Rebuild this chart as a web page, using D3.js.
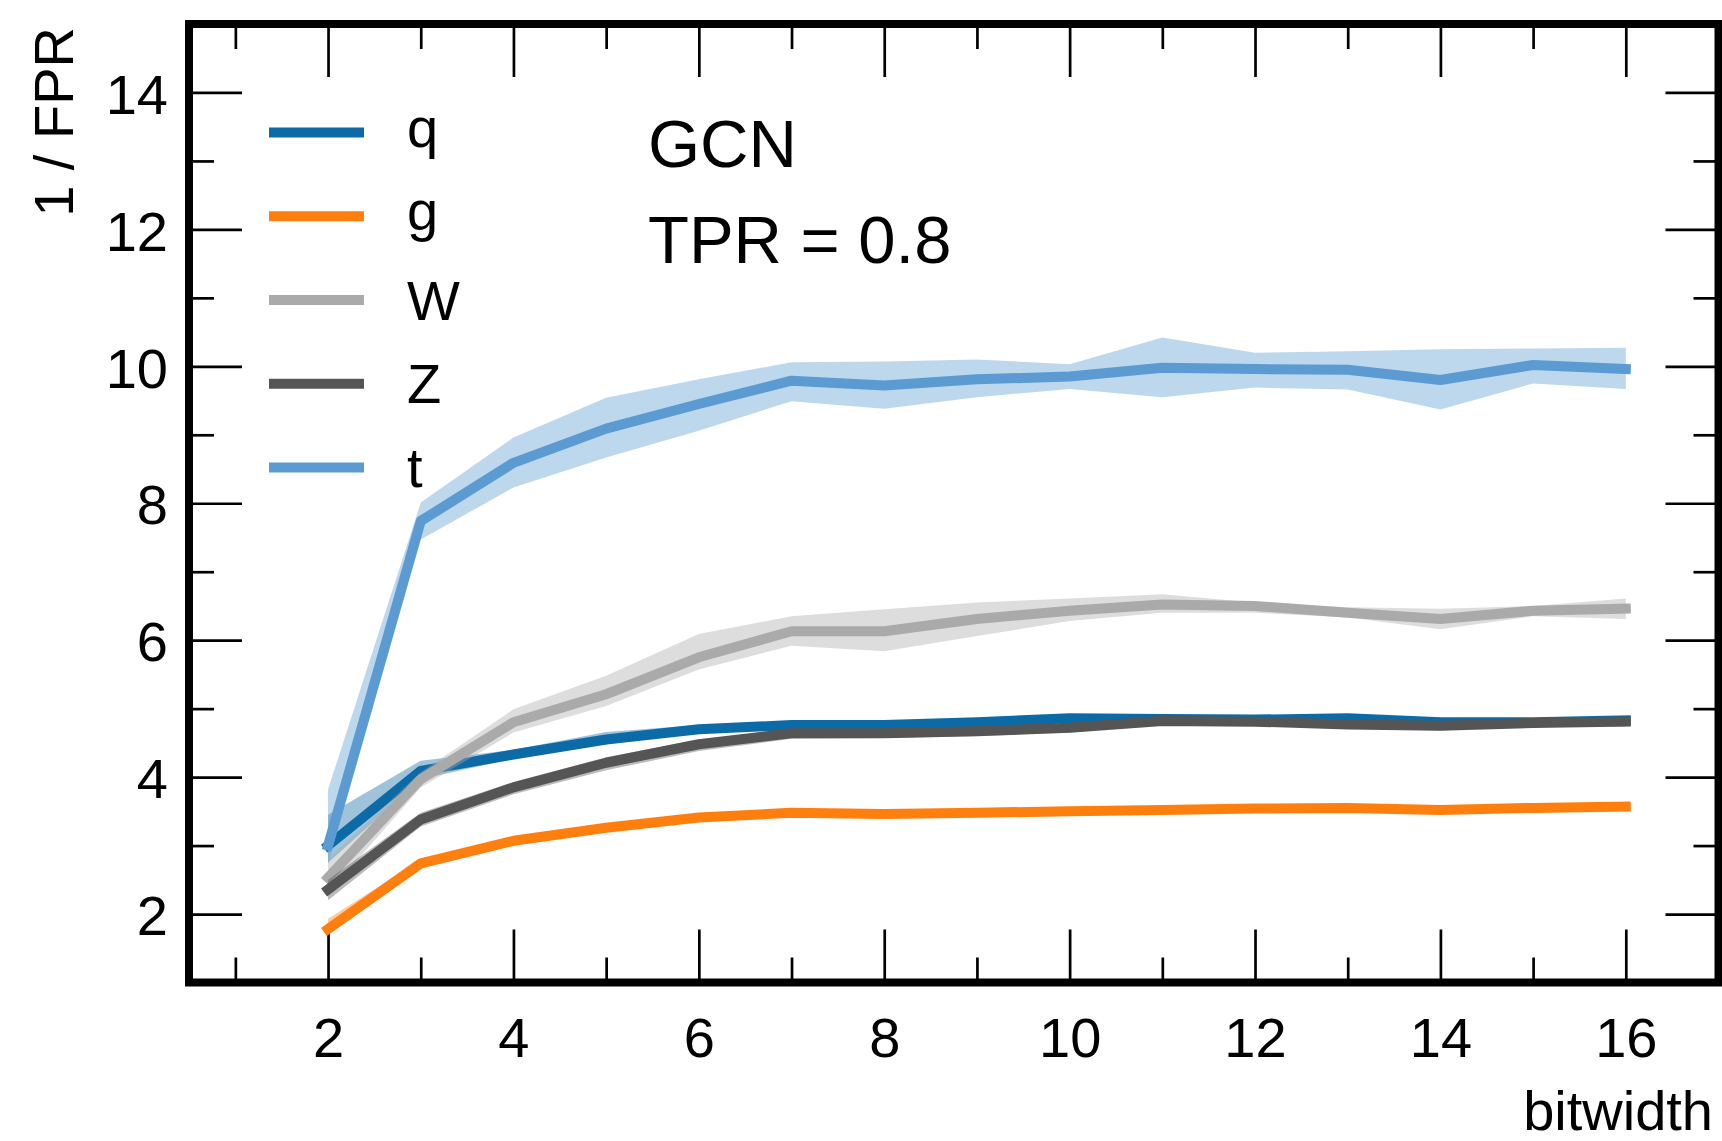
<!DOCTYPE html>
<html lang="en">
<head>
<meta charset="UTF-8">
<title>GCN 1/FPR vs bitwidth</title>
<script src="https://d3js.org/d3.v7.min.js"></script>
<style>
    body { margin: 0; background: #fff; }
    svg text { font-family: "Liberation Sans", Arial, Helvetica, sans-serif; fill: #000; }
    .tick line { stroke: #000; stroke-width: 2.7; }
    .domain { display: none; }
</style>
</head>
<body>
<div id="chart"></div>
<script>
// bitwidth values on the x axis
const bitwidths = [2, 3, 4, 5, 6, 7, 8, 9, 10, 11, 12, 13, 14, 15, 16];

// mean 1/FPR per class, with lower / upper band
const qMean = [3.0, 4.09, 4.33, 4.55, 4.70, 4.76, 4.76, 4.80, 4.86, 4.85, 4.84, 4.86, 4.80, 4.80, 4.83];
const qLow  = [2.75, 3.97, 4.27, 4.48, 4.65, 4.72, 4.72, 4.75, 4.80, 4.80, 4.79, 4.81, 4.75, 4.75, 4.77];
const qHigh = [3.45, 4.24, 4.40, 4.66, 4.76, 4.81, 4.82, 4.86, 4.90, 4.90, 4.89, 4.91, 4.85, 4.85, 4.89];

const gMean = [1.78, 2.74, 3.07, 3.26, 3.41, 3.48, 3.46, 3.48, 3.50, 3.52, 3.54, 3.55, 3.52, 3.55, 3.57];
const gLow  = [1.72, 2.70, 3.03, 3.22, 3.37, 3.44, 3.42, 3.44, 3.46, 3.48, 3.50, 3.51, 3.48, 3.51, 3.53];
const gHigh = [1.93, 2.79, 3.11, 3.30, 3.45, 3.52, 3.50, 3.52, 3.54, 3.56, 3.58, 3.59, 3.56, 3.59, 3.61];

const wMean = [2.53, 3.97, 4.80, 5.21, 5.75, 6.13, 6.13, 6.31, 6.43, 6.52, 6.50, 6.40, 6.31, 6.43, 6.46];
const wLow  = [2.30, 3.85, 4.65, 5.04, 5.57, 5.92, 5.84, 6.06, 6.28, 6.40, 6.40, 6.33, 6.16, 6.35, 6.31];
const wHigh = [2.80, 4.07, 4.99, 5.48, 6.09, 6.35, 6.45, 6.55, 6.61, 6.67, 6.55, 6.48, 6.46, 6.50, 6.61];

const zMean = [2.36, 3.38, 3.85, 4.21, 4.48, 4.64, 4.64, 4.67, 4.72, 4.82, 4.81, 4.77, 4.75, 4.79, 4.81];
const zLow  = [2.20, 3.28, 3.75, 4.10, 4.38, 4.56, 4.57, 4.60, 4.65, 4.77, 4.76, 4.71, 4.68, 4.74, 4.74];
const zHigh = [2.50, 3.48, 3.93, 4.29, 4.55, 4.70, 4.70, 4.73, 4.78, 4.87, 4.86, 4.82, 4.80, 4.84, 4.88];

const tMean = [3.0, 7.74, 8.59, 9.09, 9.45, 9.79, 9.72, 9.81, 9.85, 9.98, 9.96, 9.95, 9.80, 10.02, 9.96];
const tLow  = [2.73, 7.47, 8.23, 8.67, 9.06, 9.49, 9.38, 9.55, 9.67, 9.55, 9.69, 9.66, 9.37, 9.75, 9.67];
const tHigh = [3.82, 8.01, 8.96, 9.54, 9.81, 10.06, 10.07, 10.10, 10.03, 10.42, 10.20, 10.22, 10.25, 10.26, 10.27];

const seriesNames = ["q", "g", "W", "Z", "t"];
const seriesColors = ["#0c6aa6", "#ff7f0e", "#aaaaaa", "#555555", "#5b9bd1"];

const xMajorTicks = [2, 4, 6, 8, 10, 12, 14, 16];
const xMinorTicks = [1, 3, 5, 7, 9, 11, 13, 15];
const yMajorTicks = [2, 4, 6, 8, 10, 12, 14];
const yMinorTicks = [3, 5, 7, 9, 11, 13];

const series = [
    { mean: qMean, low: qLow, high: qHigh },
    { mean: gMean, low: gLow, high: gHigh },
    { mean: wMean, low: wLow, high: wHigh },
    { mean: zMean, low: zLow, high: zHigh },
    { mean: tMean, low: tLow, high: tHigh }
].map((s, i) => ({
    name: seriesNames[i],
    color: seriesColors[i],
    points: bitwidths.map((b, j) => ({ x: b, y: s.mean[j], lo: s.low[j], hi: s.high[j] }))
}));

const W = 1722, H = 1141;
const plotLeft = 189, plotRight = 1718.5, plotTop = 24, plotBottom = 982.5;

const svg = d3.select("#chart").append("svg")
    .attr("width", W).attr("height", H);

svg.append("rect").attr("width", W).attr("height", H).attr("fill", "#fff");

const x = d3.scaleLinear().domain([0.5, 17]).range([plotLeft, plotRight]);
const y = d3.scaleLinear().domain([1, 15]).range([plotBottom, plotTop]);

const majorLen = 53, minorLen = 25;

// ticks on all four sides, pointing inward
function addAxis(axis, tx, ty) {
    const g = svg.append("g").attr("transform", `translate(${tx},${ty})`).call(axis);
    g.selectAll("text").style("font-size", "56px");
    return g;
}

addAxis(d3.axisBottom(x).tickValues(xMajorTicks).tickSize(-majorLen).tickPadding(35), 0, plotBottom);
addAxis(d3.axisBottom(x).tickValues(xMinorTicks).tickSize(-minorLen).tickFormat(""), 0, plotBottom);
addAxis(d3.axisTop(x).tickValues(xMajorTicks).tickSize(-majorLen).tickFormat(""), 0, plotTop);
addAxis(d3.axisTop(x).tickValues(xMinorTicks).tickSize(-minorLen).tickFormat(""), 0, plotTop);

const yl = addAxis(d3.axisLeft(y).tickValues(yMajorTicks).tickSize(-majorLen).tickPadding(21), plotLeft, 0);
yl.selectAll("text").attr("dy", "0.37em");
addAxis(d3.axisLeft(y).tickValues(yMinorTicks).tickSize(-minorLen).tickFormat(""), plotLeft, 0);
addAxis(d3.axisRight(y).tickValues(yMajorTicks).tickSize(-majorLen).tickFormat(""), plotRight, 0);
addAxis(d3.axisRight(y).tickValues(yMinorTicks).tickSize(-minorLen).tickFormat(""), plotRight, 0);

// bands and lines
const area = d3.area()
    .x(d => x(d.x))
    .y0(d => y(d.lo))
    .y1(d => y(d.hi));

const line = d3.line()
    .x(d => x(d.x))
    .y(d => y(d.y));

const plot = svg.append("g");
series.forEach(s => {
    plot.append("path")
        .datum(s.points)
        .attr("d", area)
        .attr("fill", s.color)
        .attr("fill-opacity", 0.4)
        .attr("stroke", "none");
    plot.append("path")
        .datum(s.points)
        .attr("d", line)
        .attr("fill", "none")
        .attr("stroke", s.color)
        .attr("stroke-width", 10)
        .attr("stroke-linejoin", "round")
        .attr("stroke-linecap", "square");
});

// frame
svg.append("rect")
    .attr("x", plotLeft).attr("y", plotTop)
    .attr("width", plotRight - plotLeft).attr("height", plotBottom - plotTop)
    .attr("fill", "none").attr("stroke", "#000").attr("stroke-width", 8);

// legend
const legend = svg.append("g");
series.forEach((s, i) => {
    const ly = 132.5 + i * 83.75;
    legend.append("line")
        .attr("x1", 269).attr("x2", 364)
        .attr("y1", ly).attr("y2", ly)
        .attr("stroke", s.color).attr("stroke-width", 10);
    legend.append("text")
        .attr("x", 407)
        .attr("y", ly + (/[gjpqy]/.test(s.name) ? 14 : 19.5))
        .style("font-size", "56px")
        .text(s.name);
});

// annotations
svg.append("text").attr("x", 648).attr("y", 167).style("font-size", "67px").text("GCN");
svg.append("text").attr("x", 648).attr("y", 263).style("font-size", "67px").text("TPR = 0.8");

// axis titles
svg.append("text")
    .attr("x", 1713).attr("y", 1130)
    .attr("text-anchor", "end")
    .style("font-size", "56px")
    .text("bitwidth");

svg.append("text")
    .attr("transform", "translate(73,27) rotate(-90)")
    .attr("text-anchor", "end")
    .style("font-size", "56px")
    .text("1 / FPR");
</script>
</body>
</html>
